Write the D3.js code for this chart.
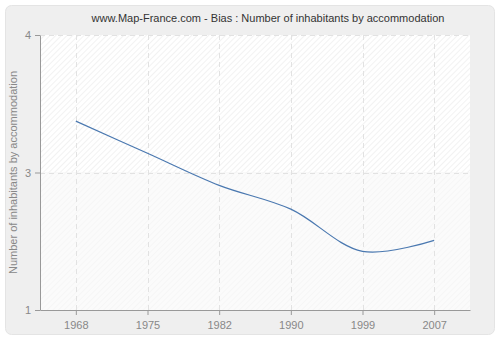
<!DOCTYPE html>
<html lang="en">
<head>
  <meta charset="UTF-8">
  <title>Bias : Number of inhabitants by accommodation</title>
  <script src="https://d3js.org/d3.v7.min.js"></script>
  <style>
    body {
      margin: 0;
      padding: 0;
      background-color: #fff;
    }
    text {
      font-family: "Liberation Sans", Arial, sans-serif;
    }
    .tick text {
      font-size: 11px;
      fill: #888;
    }
    .grid line {
      stroke: #e2e2e2;
      stroke-dasharray: 5,4;
    }
  </style>
</head>
<body>

  <div id="chart"></div>

  <script>
    // Data
    const years = ['1968', '1975', '1982', '1990', '1999', '2007'];
    const values = [3.06, 2.71, 2.36, 2.10, 1.64, 1.76];
    const yTicks = [1, 2.5, 4];
    const yTickLabels = ['1', '3', '4'];

    const width = 500;
    const height = 340;
    const margin = { top: 35, right: 30, bottom: 30, left: 40 };

    const svg = d3.select('#chart')
      .append('svg')
      .attr('width', width)
      .attr('height', height);

    // Hatch patterns
    const defs = svg.append('defs');
    function hatch(id, bg, lineColor) {
      const p = defs.append('pattern')
        .attr('id', id)
        .attr('patternUnits', 'userSpaceOnUse')
        .attr('width', 4)
        .attr('height', 4)
        .attr('patternTransform', 'rotate(45)');
      p.append('rect').attr('width', 4).attr('height', 4).attr('fill', bg);
      p.append('line')
        .attr('x1', 0).attr('y1', 0).attr('x2', 0).attr('y2', 4)
        .attr('stroke', lineColor).attr('stroke-width', 1);
    }
    hatch('hatchTop', '#ffffff', '#e6e6e6');
    hatch('hatchBottom', '#fbfbfb', '#f1f1f1');

    // Outer panel
    svg.append('rect')
      .attr('x', 5.5).attr('y', 5.5)
      .attr('width', width - 11).attr('height', height - 11)
      .attr('rx', 6)
      .attr('fill', '#efefef')
      .attr('stroke', '#e4e4e4');

    const x = d3.scalePoint()
      .domain(years)
      .range([margin.left, width - margin.right])
      .padding(0.5);

    const y = d3.scaleLinear()
      .domain([1, 4])
      .range([height - margin.bottom, margin.top]);

    // Plot background
    svg.append('rect')
      .attr('x', margin.left).attr('y', y(4))
      .attr('width', width - margin.right - margin.left)
      .attr('height', y(2.5) - y(4))
      .attr('fill', 'url(#hatchTop)');
    svg.append('rect')
      .attr('x', margin.left).attr('y', y(2.5))
      .attr('width', width - margin.right - margin.left)
      .attr('height', y(1) - y(2.5))
      .attr('fill', 'url(#hatchBottom)');

    // Grid
    svg.append('g')
      .attr('class', 'grid')
      .selectAll('line.v')
      .data(years)
      .enter()
      .append('line')
      .attr('x1', d => Math.round(x(d)) + 0.5)
      .attr('x2', d => Math.round(x(d)) + 0.5)
      .attr('y1', y(4))
      .attr('y2', y(1));

    svg.append('g')
      .attr('class', 'grid')
      .selectAll('line.h')
      .data([2.5, 4])
      .enter()
      .append('line')
      .attr('x1', margin.left)
      .attr('x2', width - margin.right)
      .attr('y1', d => Math.round(y(d)) + 0.5)
      .attr('y2', d => Math.round(y(d)) + 0.5);

    // Axes
    const xAxis = svg.append('g')
      .attr('transform', `translate(0,${y(1)})`)
      .call(d3.axisBottom(x).tickSize(5).tickPadding(6).tickSizeOuter(0));

    const yAxis = svg.append('g')
      .attr('transform', `translate(${margin.left},0)`)
      .call(d3.axisLeft(y)
        .tickValues(yTicks)
        .tickFormat((d, i) => yTickLabels[i])
        .tickSize(5)
        .tickPadding(4)
        .tickSizeOuter(0));

    svg.selectAll('.domain, .tick line').attr('stroke', '#999');

    // Line
    const line = d3.line()
      .x((d, i) => x(years[i]))
      .y(d => y(d))
      .curve(d3.curveCatmullRom);

    svg.append('path')
      .datum(values)
      .attr('fill', 'none')
      .attr('stroke', '#4a78b0')
      .attr('stroke-width', 1.2)
      .attr('d', line);

    // Title
    svg.append('text')
      .attr('x', 268)
      .attr('y', 22)
      .attr('text-anchor', 'middle')
      .attr('font-size', 11)
      .attr('fill', '#333')
      .text('www.Map-France.com - Bias : Number of inhabitants by accommodation');

    // Y label
    svg.append('text')
      .attr('transform', `translate(17,${(y(1) + y(4)) / 2}) rotate(-90)`)
      .attr('text-anchor', 'middle')
      .attr('font-size', 11)
      .attr('fill', '#888')
      .text('Number of inhabitants by accommodation');
  </script>

</body>
</html>
